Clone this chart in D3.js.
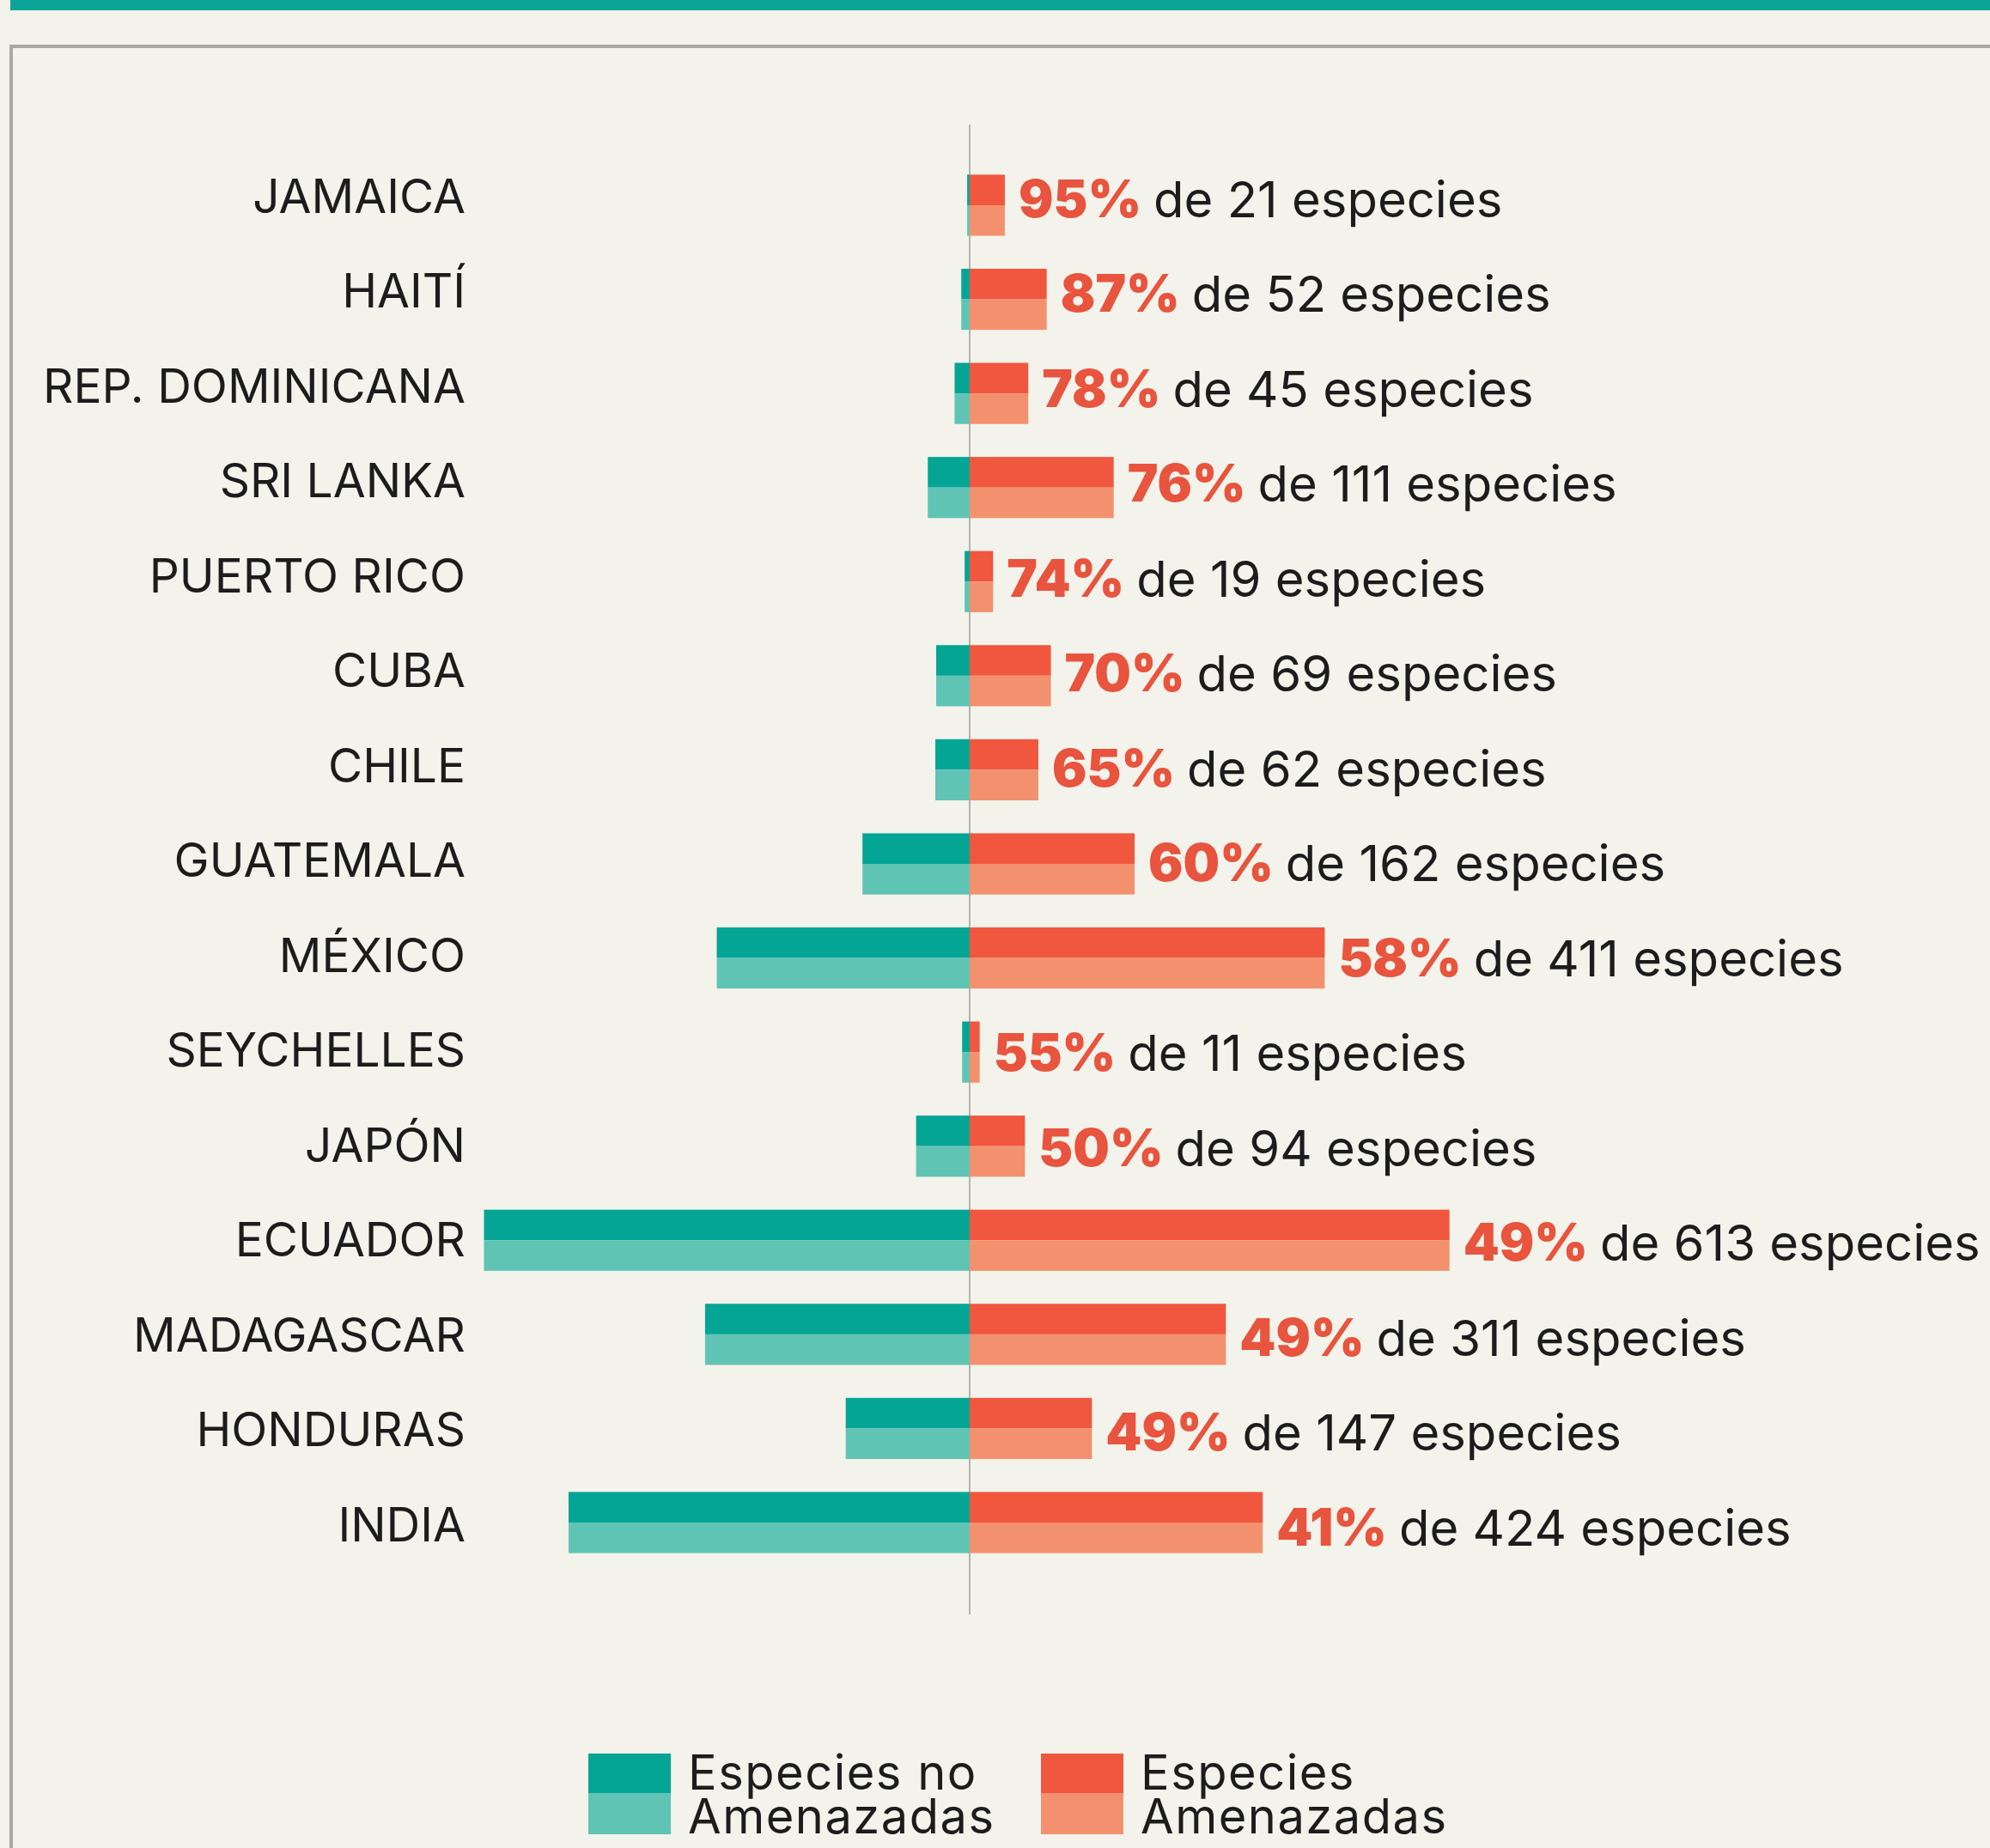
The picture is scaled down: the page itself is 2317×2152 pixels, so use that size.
<!DOCTYPE html>
<html>
<head>
<meta charset="utf-8">
<script src="https://cdn.jsdelivr.net/npm/d3@7"></script>
<style>
  html, body { margin: 0; padding: 0; background: #f3f3ec; }
  svg { display: block; }
</style>
</head>
<body>
<svg id="chart" width="2317" height="2152"></svg>
<script>
// ---- Data ----
const countries = ["JAMAICA", "HAITÍ", "REP. DOMINICANA", "SRI LANKA", "PUERTO RICO", "CUBA", "CHILE",
  "GUATEMALA", "MÉXICO", "SEYCHELLES", "JAPÓN", "ECUADOR", "MADAGASCAR", "HONDURAS", "INDIA"];
const pctThreatened = [95, 87, 78, 76, 74, 70, 65, 60, 58, 55, 50, 49, 49, 49, 41];
const totalSpecies = [21, 52, 45, 111, 19, 69, 62, 162, 411, 11, 94, 613, 311, 147, 424];
// bar lengths as drawn (species units)
const notThreatened = [1.5, 5, 9, 25, 3, 20, 20.5, 64, 151, 4.5, 32, 290, 158, 74, 239.5];
const threatened = [21, 46, 35, 86, 14, 48.5, 41, 98.5, 212, 6, 33, 286.5, 153, 73, 175];
const legendLabels = [["Especies no", "Amenazadas"], ["Especies", "Amenazadas"]];

const rows = countries.map((c, i) => ({
  country: c, pct: pctThreatened[i], total: totalSpecies[i],
  non: notThreatened[i], thr: threatened[i]
}));

// ---- Styles ----
const C = {
  bg: "#f3f3ec", banner: "#0aa598", border: "#a8a9a3", axis: "#b3b4ae",
  tealDark: "#05a596", tealLight: "#60c4b5",
  redDark: "#f0573e", redLight: "#f3916f",
  pct: "#e8543d", text: "#1c1c1c"
};
const FONT = "Inter, 'Open Sans', sans-serif";

const svg = d3.select("#chart");
const W = 2317, H = 2152;

svg.append("rect").attr("width", W).attr("height", H).attr("fill", C.bg);
// top banner
svg.append("rect").attr("x", 12).attr("y", 0).attr("width", W - 12).attr("height", 12).attr("fill", C.banner);
// panel border (top + left)
svg.append("path")
  .attr("d", `M13,${H + 5} L13,54 L${W + 5},54`)
  .attr("fill", "none").attr("stroke", C.border).attr("stroke-width", 4);

// ---- Scales ----
const cx = 1129;
const xR = d3.scaleLinear().domain([0, 300]).range([cx, cx + 585]);
const xL = d3.scaleLinear().domain([0, 300]).range([cx, cx - 585]);
const y = d3.scaleBand().domain(countries).range([184.2, 1827.8]).paddingInner(0.35).paddingOuter(0.175);
const yLab = d3.scalePoint().domain(countries).range([227.5, 1775]);

// center axis line
svg.append("line").attr("x1", cx).attr("x2", cx).attr("y1", 145).attr("y2", 1880)
  .attr("stroke", C.axis).attr("stroke-width", 2);

const bh = y.bandwidth();
const g = svg.append("g");

const rowG = g.selectAll("g.row").data(rows).join("g").attr("class", "row");
// non-threatened (left), two-tone
rowG.append("rect")
  .attr("x", d => xL(d.non)).attr("y", d => y(d.country))
  .attr("width", d => cx - xL(d.non)).attr("height", bh / 2).attr("fill", C.tealDark);
rowG.append("rect")
  .attr("x", d => xL(d.non)).attr("y", d => y(d.country) + bh / 2)
  .attr("width", d => cx - xL(d.non)).attr("height", bh / 2).attr("fill", C.tealLight);
// threatened (right), two-tone
rowG.append("rect")
  .attr("x", cx).attr("y", d => y(d.country))
  .attr("width", d => xR(d.thr) - cx).attr("height", bh / 2).attr("fill", C.redDark);
rowG.append("rect")
  .attr("x", cx).attr("y", d => y(d.country) + bh / 2)
  .attr("width", d => xR(d.thr) - cx).attr("height", bh / 2).attr("fill", C.redLight);

// country labels
g.selectAll("text.country").data(rows).join("text")
  .attr("class", "country")
  .attr("x", 542).attr("y", d => yLab(d.country) + 20)
  .attr("text-anchor", "end")
  .attr("font-family", FONT).attr("font-size", 55).attr("font-weight", 400)
  .attr("fill", C.text)
  .text(d => d.country);

// value labels
const vt = g.selectAll("text.val").data(rows).join("text")
  .attr("class", "val")
  .attr("x", d => xR(d.thr) + 16).attr("y", d => yLab(d.country) + 25)
  .attr("font-family", FONT);
vt.append("tspan").attr("font-size", 60).attr("font-weight", 900).attr("fill", C.pct).text(d => d.pct + "%");
vt.append("tspan").attr("font-size", 58).attr("font-weight", 400).attr("fill", C.text).attr("dx", 14)
  .text(d => `de ${d.total} especies`);

// ---- Legend ----
const legend = svg.append("g");
const lx = [685, 1212];
const lcols = [[C.tealDark, C.tealLight], [C.redDark, C.redLight]];
legendLabels.forEach((lines, i) => {
  const lg = legend.append("g");
  lg.append("rect").attr("x", lx[i]).attr("y", 2042).attr("width", 96).attr("height", 46).attr("fill", lcols[i][0]);
  lg.append("rect").attr("x", lx[i]).attr("y", 2088).attr("width", 96).attr("height", 48).attr("fill", lcols[i][1]);
  const t = lg.append("text")
    .attr("x", lx[i] + 116).attr("y", 2084)
    .attr("font-family", FONT).attr("font-size", 56).attr("font-weight", 400)
    .attr("letter-spacing", 1.5)
    .attr("fill", C.text);
  t.selectAll("tspan").data(lines).join("tspan")
    .attr("x", lx[i] + 116).attr("dy", (d, j) => j === 0 ? 0 : 51)
    .text(d => d);
});
</script>
</body>
</html>
